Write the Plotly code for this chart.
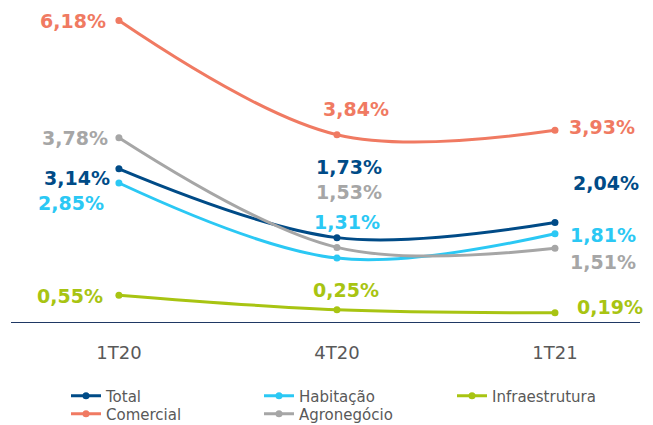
import plotly.graph_objects as go

categories = ["1T20", "4T20", "1T21"]
series_names = ["Total", "Habitação", "Infraestrutura", "Comercial", "Agronegócio"]
total = [3.14, 1.73, 2.04]
habitacao = [2.85, 1.31, 1.81]
infraestrutura = [0.55, 0.25, 0.19]
comercial = [6.18, 3.84, 3.93]
agronegocio = [3.78, 1.53, 1.51]

values = [total, habitacao, infraestrutura, comercial, agronegocio]
colors = ["#004B87", "#2BC8F4", "#A8C412", "#F07A62", "#A6A6A6"]
legend_rows = ["legend", "legend", "legend", "legend2", "legend2"]

# label pixel offsets (xshift, yshift) per series for each category
offsets = {
    "Comercial": [(-11, 0), (19, 26), (12, 3)],
    "Agronegócio": [(-9, 0), (12, 55), (13, -14)],
    "Total": [(-7, -9), (12, 71), (16, 40)],
    "Habitação": [(-13, -20), (10, 36), (13, -1)],
    "Infraestrutura": [(-14, -1), (9, 20), (20, 6)],
}
anchors = ["right", "center", "left"]

FONT = "Verdana, DejaVu Sans, sans-serif"
xs = list(range(len(categories)))

fig = go.Figure()
for i in range(len(series_names)):
    fig.add_trace(go.Scatter(
        x=xs, y=values[i], name=series_names[i], mode="lines+markers",
        line=dict(color=colors[i], width=3, shape="spline", smoothing=1.0),
        marker=dict(size=7, color=colors[i]),
        legend=legend_rows[i],
    ))

annotations = []
for i, name in enumerate(series_names):
    for j, v in enumerate(values[i]):
        dx, dy = offsets[name][j]
        annotations.append(dict(
            x=xs[j], y=v, xref="x", yref="y",
            text=f"{v:.2f}%".replace(".", ","),
            showarrow=False, xanchor=anchors[j], yanchor="middle",
            xshift=dx, yshift=dy,
            font=dict(family=FONT, size=19, color=colors[i], weight="bold"),
        ))

legend_common = dict(
    orientation="h", xref="container", yref="container",
    xanchor="left", yanchor="middle",
    font=dict(family=FONT, size=15, color="#595959"),
    entrywidth=148, entrywidthmode="pixels",
    itemwidth=30, bgcolor="rgba(0,0,0,0)",
)

fig.update_layout(
    width=653, height=425,
    margin=dict(l=11, r=13, t=5, b=103),
    paper_bgcolor="white", plot_bgcolor="white",
    showlegend=True,
    legend=dict(legend_common, x=66 / 653, y=1 - 396 / 425),
    legend2=dict(legend_common, x=66 / 653, y=1 - 414 / 425),
    annotations=annotations,
    xaxis=dict(
        range=[-0.495, 2.39], tickmode="array", tickvals=xs, ticktext=categories,
        showgrid=False, zeroline=False, showline=True, linecolor="#1F3864", linewidth=1,
        ticks="", ticklabelstandoff=14,
        tickfont=dict(family=FONT, size=18, color="#595959"),
    ),
    yaxis=dict(range=[0, 6.5], visible=False, showgrid=False, zeroline=False),
)

fig.write_html("out.html")
